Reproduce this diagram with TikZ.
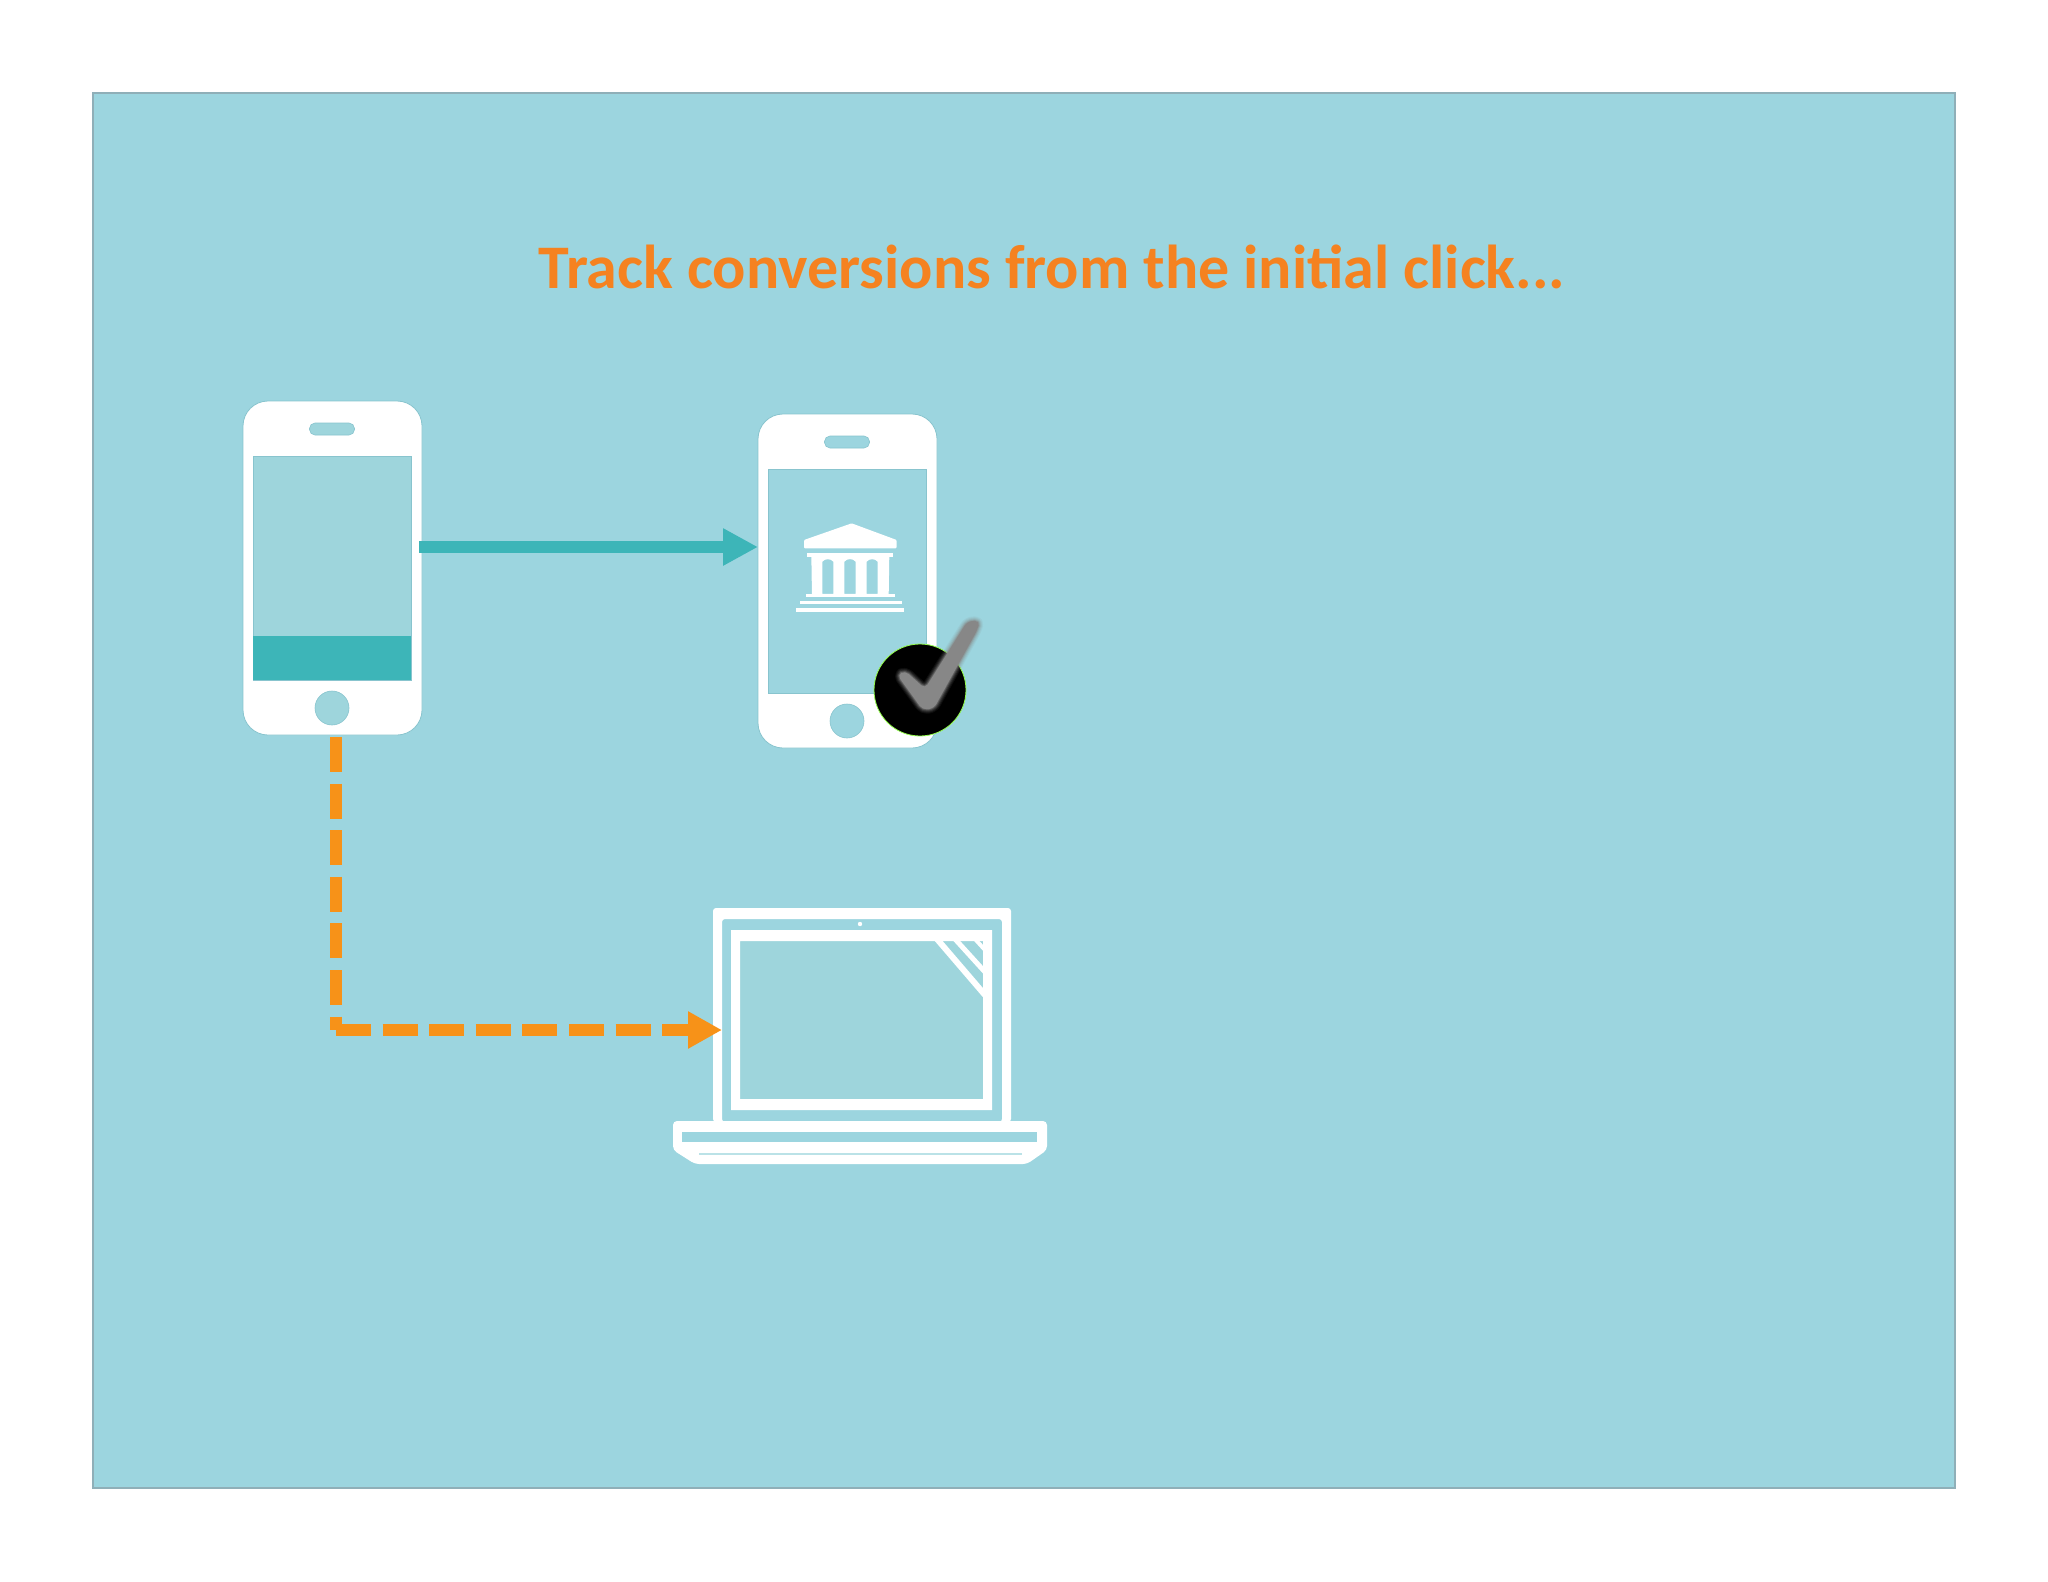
\documentclass[tikz,border=0pt]{standalone}
\usepackage{fontspec}
\setmainfont{Carlito}
\usetikzlibrary{arrows.meta,calc,shapes.geometric}
\definecolor{panelc}{HTML}{9CD5DF}
\definecolor{screenc}{HTML}{9ED5DC}
\definecolor{edgec}{HTML}{8FAFB8}
\definecolor{softedge}{HTML}{88C4CE}
\definecolor{tealc}{HTML}{3DB5B8}
\definecolor{orangec}{HTML}{F79218}
\definecolor{titlec}{HTML}{F58220}
\definecolor{checkc}{HTML}{878787}
\tikzset{
  body/.style={draw=softedge,line width=.8pt,fill=white,rounded corners=25pt,minimum width=179pt,minimum height=334pt,inner sep=0pt,outer sep=0pt},
  speaker/.style={draw=softedge,line width=.6pt,fill=screenc,rounded corners=5.5pt,minimum width=45pt,minimum height=12pt,inner sep=0pt},
  homebtn/.style={circle,draw=softedge,line width=.6pt,fill=screenc,minimum size=34pt,inner sep=0pt},
  screenbox/.style={draw=softedge,line width=.6pt,fill=screenc,minimum width=158pt,minimum height=224pt,inner sep=0pt,outer sep=0pt},
  tealline/.style={draw=tealc,line width=11.7pt,-{Triangle[length=35pt,width=35pt]}},
  orangeline/.style={draw=orangec,line width=11.7pt,dash pattern=on 35pt off 11.6pt},
}
\begin{document}
\begin{tikzpicture}[x=1pt,y=-1pt]
\useasboundingbox (0,0) rectangle (2048,1582);
\fill[white] (0,0) rectangle (2048,1582);
\draw[draw=edgec,line width=1.5pt,fill=panelc] (93,93) rectangle (1955,1488);
\node[text=titlec,font=\bfseries\fontsize{62pt}{66pt}\selectfont,inner sep=0pt] (title) at (1052,267) {Track conversions from the initial click...};

% left phone
\node[body] (phoneA) at (332.5,568) {};
\node[speaker] (spkA) at (332,429) {};
\node[screenbox] (scrA) at (332,568) {};
\fill[tealc] (252.5,636) rectangle (410.5,680);
\node[homebtn] (btnA) at (332,708) {};

% right phone
\node[body] (phoneB) at (847.5,581) {};
\node[speaker,fill=panelc] (spkB) at (847,442) {};
\node[screenbox,fill=panelc] (scrB) at (847,581) {};
\node[homebtn,fill=panelc] (btnB) at (847,721) {};

% bank icon
\begin{scope}[shift={(740,400)},x=.3333pt,y=-.3333pt]
  \fill[white,rounded corners=1pt] (192,420) -- (335,370) -- (470,420) -- (470,445) -- (192,445) -- cycle;
  \fill[white] (200,460) rectangle (460,472);
  \fill[white,even odd rule] (214,465) -- (448,465) -- (446,590) -- (216,590) -- cycle
    (247,582) -- (247,485) to[bend left=50] (280,485) -- (280,582) -- cycle
    (313,582) -- (313,485) to[bend left=50] (347,485) -- (347,582) -- cycle
    (380,582) -- (380,485) to[bend left=50] (413,485) -- (413,582) -- cycle;
  \fill[white] (197,582) rectangle (465,592);
  \fill[white] (180,602) rectangle (485,612);
  \fill[white] (168,625) rectangle (493,635);
\end{scope}

% badge
\node[circle,fill=black,draw=green!60!yellow!70!white,line width=.8pt,minimum size=92pt,inner sep=0pt] (badge) at (920,690) {};
\begin{scope}[shift={(740,400)},x=.3333pt,y=-.3333pt]
  \foreach \w/\o in {9/.1,7/.14,5/.2,3/.3,1.5/.4}{
    \draw[checkc,opacity=\o,line width=\w pt,line join=round,rounded corners=5pt]
      (472,825) -- (495,812) -- (555,866) -- (682,664) -- (720,662) -- (712,690) -- (582,925) -- (548,930) -- cycle;
  }
  \fill[checkc,rounded corners=5pt] (472,825) -- (495,812) -- (555,866) -- (682,664) -- (720,662) -- (712,690) -- (582,925) -- (548,930) -- cycle;
\end{scope}

% laptop
\fill[white,rounded corners=3pt,even odd rule] (713,908) rectangle (1011,1122) (722,919) rectangle (1002,1122);
\node[draw=none,minimum width=280pt,minimum height=201pt,inner sep=0pt,outer sep=0pt] (laptop) at (862,1019.5) {};
\fill[screenc] (740,941) rectangle (983,1099);
\fill[white,even odd rule] (731,930) rectangle (992,1110) (740,941) rectangle (983,1099);
\begin{scope}
  \clip (740,941) rectangle (983,1099);
  \draw[white,line width=6pt] (937,939) -- (985,995);
  \draw[white,line width=5pt] (955,939) -- (985,972);
  \draw[white,line width=4pt] (975,939) -- (985,950);
\end{scope}
\fill[white] (860,924) circle[radius=2.2];
\fill[white,rounded corners=4pt]
  (673,1121) -- (1047,1121) -- (1047,1150) -- (1027,1164) -- (695,1164) -- (673,1150) -- cycle;
\fill[panelc] (682,1132) rectangle (1037,1142);
\fill[screenc!70!white] (699,1152.5) rectangle (1022,1154.5);

% connectors
\coordinate (arrowRow) at (0,547);
\coordinate (bend) at (336,1030);
\draw[tealline] ($(phoneA.east |- arrowRow)+(-3,0)$) -- (phoneB.west |- arrowRow);
\draw[orangeline] ($(phoneA.south -| bend)+(0,2)$) -- ($(bend)$);
\draw[orangeline] (bend) -- ($(laptop.west |- bend)+(-34,0)$);
\draw[draw=orangec,line width=11.7pt,-{Triangle[length=34pt,width=35pt]}] ($(laptop.west |- bend)+(-50,0)$) -- (laptop.west |- bend);
\end{tikzpicture}
\end{document}
